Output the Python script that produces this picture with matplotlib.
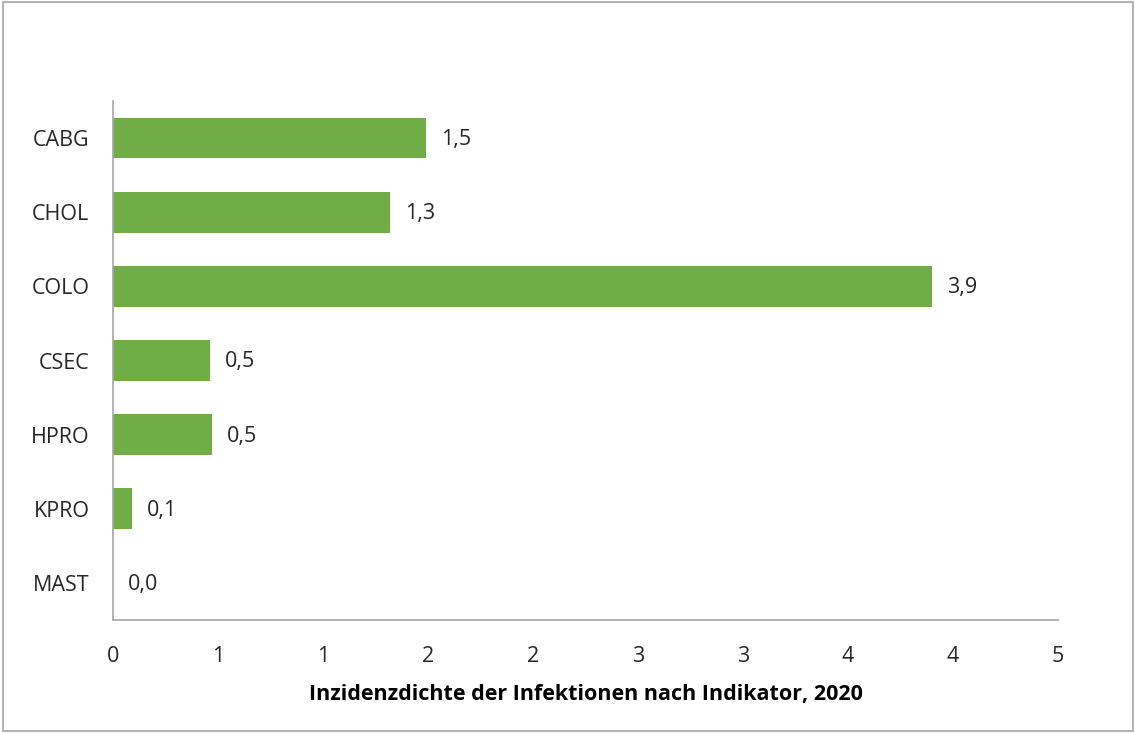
import numpy as np
import matplotlib.pyplot as plt
from matplotlib.patches import Rectangle

plt.rcParams['font.family'] = ['Open Sans', 'DejaVu Sans']

categories = ["CABG", "CHOL", "COLO", "CSEC", "HPRO", "KPRO", "MAST"]
values = [1.49, 1.32, 3.9, 0.46, 0.47, 0.09, 0.0]
xlabel = "Inzidenzdichte der Infektionen nach Indikator, 2020"

fig = plt.figure(figsize=(11.36, 7.33), dpi=100)
ax = fig.add_axes([0.0995, 0.1541, 0.9313 - 0.0995, 0.8622 - 0.1541])

y = np.arange(len(categories))
ax.barh(y, values, height=0.55, color="#70ad47")
for yi, v in zip(y, values):
    ax.annotate(f"{v:.1f}".replace(".", ","), (v, yi), xytext=(11, -1),
                textcoords="offset points", va="center", ha="left",
                fontsize=15.5, color="#262626")

ax.set_ylim(len(categories) - 0.5, -0.5)
ax.set_yticks(y)
ax.set_yticklabels(categories, fontsize=15.5, color="#262626")
ax.set_xlim(0, 4.5)
ticks = np.arange(0, 5, 0.5)
ax.set_xticks(ticks)
ax.set_xticklabels([str(int(t + 0.5)) for t in ticks], fontsize=15.5, color="#262626")
ax.tick_params(length=0)
ax.tick_params(axis="x", pad=19)
ax.tick_params(axis="y", pad=17)
ax.set_xlabel(xlabel, fontsize=15.5, fontweight="bold", labelpad=12)

for s in ["top", "right"]:
    ax.spines[s].set_visible(False)
for s in ["left", "bottom"]:
    ax.spines[s].set_color("#a6a6a6")
    ax.spines[s].set_linewidth(1.2)

fig.patches.append(Rectangle((0.003, 0.003), 0.994, 0.994, transform=fig.transFigure,
                             fill=False, edgecolor="#a6a6a6", linewidth=1.2))

fig.savefig("out.png", dpi=100)
